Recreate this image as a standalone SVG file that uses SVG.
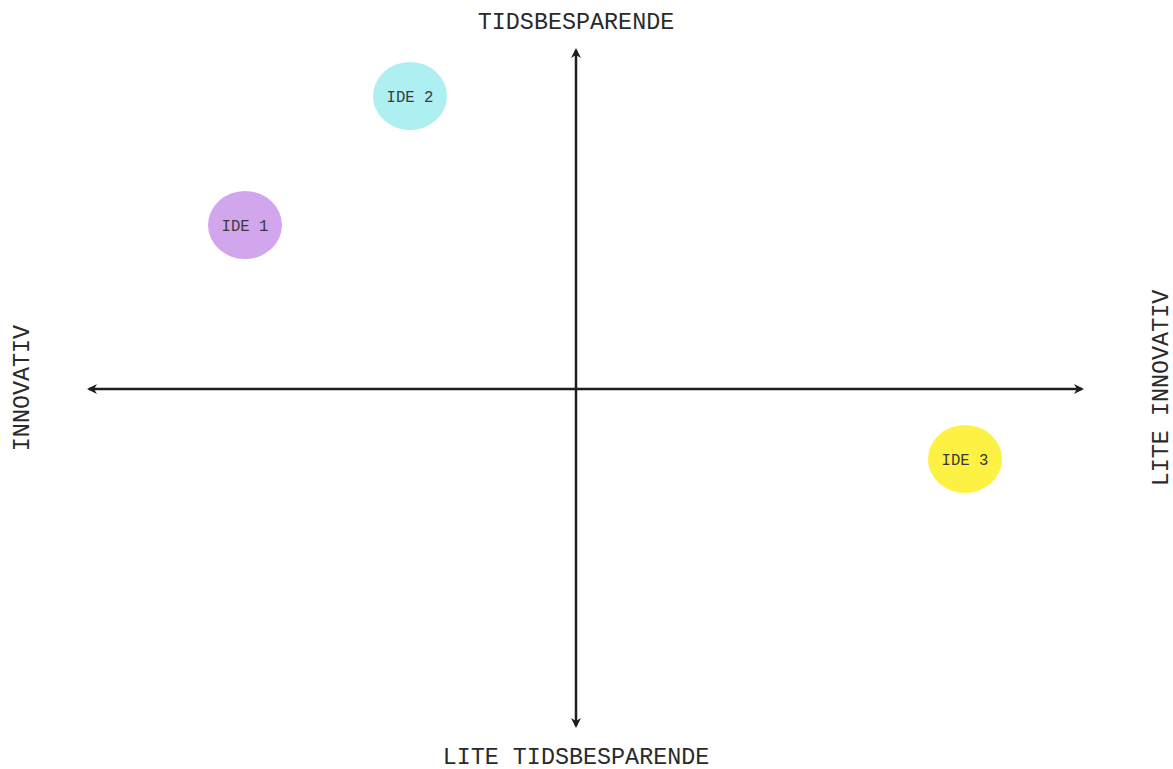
<svg xmlns="http://www.w3.org/2000/svg" width="1173" height="769" viewBox="0 0 1173 769">
<style>
.lbl{font-family:"Liberation Mono","DejaVu Sans Mono",monospace;font-size:23.4px;fill:#2a2a2a;text-anchor:middle}
.nt{font-family:"Liberation Mono","DejaVu Sans Mono",monospace;font-size:15.6px;fill:#3a3a3a;text-anchor:middle}
.ax{stroke:#1e1e1e;stroke-width:2.5;fill:none}
</style>
<defs>
<marker id="ah" viewBox="0 0 10 10" refX="8" refY="5" markerWidth="4" markerHeight="4" orient="auto-start-reverse" markerUnits="strokeWidth">
<path d="M0,0 L10,5 L0,10 L3,5 Z" fill="#1e1e1e"/>
</marker>
</defs>
<rect width="1173" height="769" fill="#ffffff"/>
<g id="connectors">
<line class="ax" x1="576" y1="50" x2="576" y2="726" marker-start="url(#ah)" marker-end="url(#ah)"/>
<line class="ax" x1="89" y1="389" x2="1082" y2="389" marker-start="url(#ah)" marker-end="url(#ah)"/>
</g>
<g id="labels">
<text class="lbl" x="576" y="29">TIDSBESPARENDE</text>
<text class="lbl" x="576" y="764">LITE TIDSBESPARENDE</text>
<text class="lbl" transform="translate(29,388) rotate(-90)">INNOVATIV</text>
<text class="lbl" transform="translate(1168,388) rotate(-90)">LITE INNOVATIV</text>
</g>
<g id="ide2">
<ellipse cx="410" cy="96" rx="37" ry="34" fill="#aeeff2"/>
<text class="nt" x="410" y="101.5">IDE 2</text>
</g>
<g id="ide1">
<ellipse cx="245" cy="225" rx="37" ry="34" fill="#d1a6ec"/>
<text class="nt" x="245" y="230.5">IDE 1</text>
</g>
<g id="ide3">
<ellipse cx="965" cy="459" rx="37" ry="34" fill="#fdf243"/>
<text class="nt" x="965" y="464.5">IDE 3</text>
</g>
</svg>
